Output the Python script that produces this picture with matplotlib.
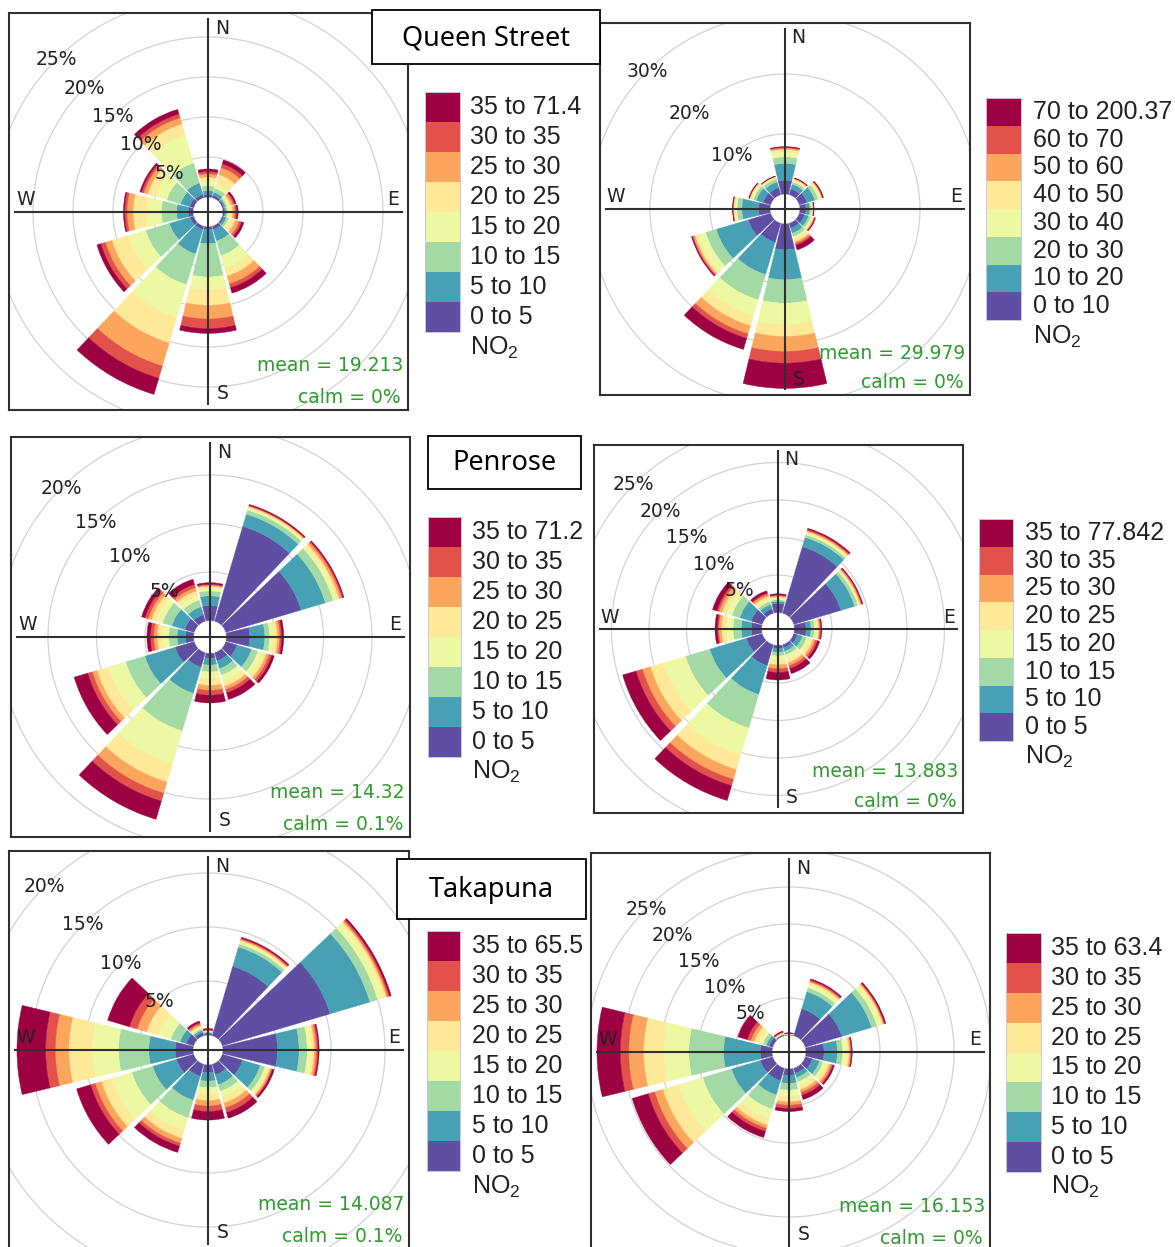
import numpy as np
import matplotlib
matplotlib.use("Agg")
import matplotlib.pyplot as plt
from matplotlib.patches import Wedge, Circle, Rectangle

plt.rcParams["mathtext.fontset"] = "custom"
plt.rcParams["mathtext.rm"] = "Liberation Sans"
plt.rcParams["mathtext.default"] = "regular"

W, H = 1175, 1247

# wind sectors (degrees clockwise from north)
directions = [0, 30, 60, 90, 120, 150, 180, 210, 240, 270, 300, 330]

# frequency (%) per NO2 band (rows, lowest band first) and wind sector (columns)
qs_left = [
    [0.3, 0.3, 0.2, 0.2, 0.2, 0.4, 0.3, 0.4, 0.45, 0.6, 0.5, 0.4],
    [0.5, 0.4, 0.2, 0.2, 0.3, 1.5, 1.8, 3.2, 2.7, 1.45, 1.2, 1.5],
    [0.6, 0.5, 0.2, 0.2, 0.3, 1.9, 4.15, 4.0, 3.1, 1.9, 1.8, 2.6],
    [0.6, 0.6, 0.2, 0.3, 0.4, 1.7, 1.65, 4.3, 2.3, 1.9, 1.5, 3.7],
    [0.5, 1.2, 0.3, 0.3, 0.5, 1.0, 1.9, 3.3, 2.1, 1.65, 1.0, 1.4],
    [0.4, 0.9, 0.3, 0.3, 0.5, 1.0, 1.7, 3.0, 0.85, 0.75, 0.5, 0.8],
    [0.3, 0.5, 0.2, 0.2, 0.3, 0.5, 1.2, 1.6, 0.6, 0.3, 0.3, 0.5],
    [0.3, 0.5, 0.2, 0.2, 0.3, 0.7, 0.6, 2.1, 0.5, 0.15, 0.2, 0.6],
]
qs_right = [
    [2.3, 1.0, 1.3, 1.0, 0.9, 0.8, 4.3, 3.3, 3.9, 1.9, 1.3, 1.2],
    [2.8, 0.8, 1.4, 0.6, 0.7, 0.9, 5.0, 5.6, 5.55, 2.8, 1.2, 1.0],
    [1.1, 0.4, 0.6, 0.3, 0.4, 0.6, 3.9, 4.4, 1.85, 0.8, 0.5, 0.5],
    [0.8, 0.3, 0.4, 0.2, 0.3, 0.5, 3.6, 2.8, 1.35, 0.4, 0.4, 0.3],
    [0.45, 0.2, 0.2, 0.1, 0.2, 0.4, 1.95, 1.7, 0.5, 0.15, 0.2, 0.1],
    [0.2, 0.1, 0.1, 0.05, 0.1, 0.3, 2.5, 1.4, 0.3, 0.1, 0.1, 0.05],
    [0.15, 0.05, 0.1, 0.05, 0.1, 0.3, 1.95, 0.8, 0.15, 0.05, 0.05, 0.03],
    [0.1, 0.05, 0.1, 0.05, 0.1, 0.8, 4.2, 1.9, 0.15, 0.05, 0.05, 0.02],
]
pen_left = [
    [1.55, 10.2, 8.1, 2.4, 1.2, 0.85, 0.5, 1.55, 2.05, 0.85, 1.0, 0.7],
    [1.0, 1.3, 2.6, 1.55, 1.55, 0.85, 0.7, 2.8, 3.25, 0.85, 1.4, 0.85],
    [0.5, 0.45, 0.85, 0.5, 0.7, 0.7, 0.7, 4.05, 2.05, 0.85, 1.0, 0.7],
    [0.3, 0.25, 0.35, 0.4, 0.5, 0.7, 0.7, 3.6, 1.9, 0.7, 0.7, 0.5],
    [0.2, 0.1, 0.3, 0.4, 0.4, 0.5, 0.7, 1.9, 1.2, 0.5, 0.5, 0.5],
    [0.1, 0.1, 0.25, 0.25, 0.3, 0.35, 0.5, 1.2, 0.5, 0.35, 0.35, 0.35],
    [0.1, 0.05, 0.15, 0.2, 0.3, 0.35, 0.5, 0.85, 0.5, 0.35, 0.35, 0.35],
    [0.15, 0.1, 0.1, 0.2, 0.25, 0.7, 0.8, 1.95, 1.45, 0.35, 0.35, 0.55],
]
pen_right = [
    [1.2, 9.25, 6.55, 1.55, 0.5, 0.4, 0.4, 2.9, 2.2, 1.35, 1.5, 0.6],
    [0.3, 1.3, 1.9, 0.65, 0.7, 0.5, 0.5, 4.0, 5.1, 1.35, 1.6, 0.6],
    [0.2, 0.35, 0.45, 0.45, 0.6, 0.5, 0.5, 4.65, 3.35, 1.1, 1.1, 0.4],
    [0.2, 0.25, 0.2, 0.35, 0.5, 0.6, 0.6, 3.8, 3.1, 0.9, 0.8, 0.4],
    [0.2, 0.2, 0.15, 0.25, 0.4, 0.5, 0.6, 2.0, 1.8, 0.65, 0.6, 0.3],
    [0.15, 0.15, 0.15, 0.15, 0.3, 0.4, 0.5, 1.35, 1.1, 0.35, 0.4, 0.3],
    [0.1, 0.15, 0.1, 0.15, 0.3, 0.4, 0.5, 0.9, 0.9, 0.2, 0.3, 0.2],
    [0.15, 0.15, 0.1, 0.1, 0.3, 0.7, 1.0, 2.05, 1.85, 0.3, 0.6, 0.3],
]
tak_left = [
    [0.15, 6.7, 10.4, 5.05, 1.95, 1.0, 0.7, 1.15, 1.65, 1.65, 0.7, 0.3],
    [0.1, 1.85, 3.85, 2.0, 1.7, 0.95, 0.8, 2.3, 2.3, 2.45, 0.6, 0.2],
    [0.05, 0.3, 0.75, 0.75, 0.45, 0.65, 0.6, 1.7, 2.0, 2.8, 0.9, 0.15],
    [0.05, 0.2, 0.6, 0.4, 0.3, 0.6, 0.6, 1.25, 2.0, 2.45, 1.25, 0.15],
    [0.05, 0.15, 0.25, 0.25, 0.2, 0.55, 0.6, 0.75, 0.95, 2.15, 1.1, 0.15],
    [0.05, 0.1, 0.15, 0.2, 0.15, 0.45, 0.5, 0.45, 0.6, 1.25, 0.9, 0.15],
    [0.05, 0.1, 0.15, 0.15, 0.1, 0.45, 0.5, 0.3, 0.45, 0.9, 0.75, 0.15],
    [0.1, 0.1, 0.15, 0.1, 0.15, 0.55, 0.8, 0.6, 1.35, 2.65, 2.1, 0.15],
]
tak_right = [
    [0.05, 3.8, 5.15, 2.45, 1.0, 0.7, 0.85, 1.75, 1.75, 1.6, 0.5, 0.1],
    [0.05, 2.4, 4.2, 1.8, 1.0, 0.6, 1.1, 2.0, 4.05, 4.95, 0.4, 0.1],
    [0.03, 0.55, 0.75, 0.7, 0.5, 0.6, 0.9, 2.0, 4.05, 4.7, 0.5, 0.05],
    [0.03, 0.45, 0.6, 0.55, 0.5, 0.6, 0.9, 1.35, 3.4, 3.4, 0.6, 0.05],
    [0.04, 0.3, 0.25, 0.35, 0.4, 0.5, 0.7, 0.9, 2.25, 2.7, 0.6, 0.1],
    [0.03, 0.2, 0.15, 0.2, 0.3, 0.4, 0.45, 0.45, 1.15, 2.0, 0.5, 0.1],
    [0.03, 0.15, 0.1, 0.1, 0.2, 0.4, 0.45, 0.45, 0.9, 1.15, 0.5, 0.05],
    [0.04, 0.15, 0.15, 0.1, 0.2, 0.6, 0.4, 0.85, 2.25, 3.15, 1.3, 0.1],
]

# legend labels (lowest band first)
bands_5 = ["0 to 5", "5 to 10", "10 to 15", "15 to 20", "20 to 25", "25 to 30", "30 to 35"]
bands_10 = ["0 to 10", "10 to 20", "20 to 30", "30 to 40", "40 to 50", "50 to 60", "60 to 70"]
labels_qs_left = bands_5 + ["35 to 71.4"]
labels_qs_right = bands_10 + ["70 to 200.37"]
labels_pen_left = bands_5 + ["35 to 71.2"]
labels_pen_right = bands_5 + ["35 to 77.842"]
labels_tak_left = bands_5 + ["35 to 65.5"]
labels_tak_right = bands_5 + ["35 to 63.4"]

means = ["19.213", "29.979", "14.32", "13.883", "14.087", "16.153"]
calms = ["0%", "0%", "0.1%", "0%", "0.1%", "0%"]
sites = ["Queen Street", "Penrose", "Takapuna"]

band_colors = plt.get_cmap("Spectral_r")(np.linspace(0, 1, 8))

fig = plt.figure(figsize=(W / 100, H / 100), dpi=100)
fig.patch.set_facecolor("white")

FRAME = "#303030"
TXT = "#222222"
GREEN = "#2f9a2f"
HALF_WIDTH = 13.5  # each sector drawn 27 degrees wide


def draw_rose(freq, grid, box, center, scale, off_px, mean, calm):
    l, t, r, b = box
    cx, cy = center
    ax = fig.add_axes([l / W, 1 - b / H, (r - l) / W, (b - t) / H])
    xl, xr = (l - cx) / scale, (r - cx) / scale
    yb, yt = (cy - b) / scale, (cy - t) / scale
    ax.set_xlim(xl, xr)
    ax.set_ylim(yb, yt)
    ax.set_aspect("auto")
    ax.set_xticks([])
    ax.set_yticks([])
    for sp in ax.spines.values():
        sp.set_color(FRAME)
        sp.set_linewidth(1.5)
    off = off_px / scale

    for g in grid:
        ax.add_patch(Circle((0, 0), off + g, fill=False, ec="#d2d2d2", lw=0.9, zorder=1))

    freq = np.asarray(freq, dtype=float)
    cum = np.zeros(len(directions))
    for k in range(freq.shape[0]):
        for d, v in enumerate(freq[k]):
            if v <= 0:
                continue
            outer = off + cum[d] + v
            th = 90 - directions[d]
            ax.add_patch(Wedge((0, 0), outer, th - HALF_WIDTH, th + HALF_WIDTH, width=v,
                               fc=band_colors[k], ec=band_colors[k], lw=0.3, zorder=2))
        cum += freq[k]

    ax.plot([xl * 0.97, xr * 0.97], [0, 0], color=FRAME, lw=1.5, zorder=3)
    ax.plot([0, 0], [yb * 0.97, yt * 0.97], color=FRAME, lw=1.5, zorder=3)

    fs = 13.5
    kw = dict(fontsize=fs, color=TXT, family="DejaVu Sans", zorder=4)
    ax.text(0.07 * xr, 0.92 * yt, "N", ha="center", va="center", **kw)
    ax.text(0.925 * xr, 0.065 * yt, "E", ha="center", va="center", **kw)
    ax.text(0.075 * xr, 0.915 * yb, "S", ha="center", va="center", **kw)
    ax.text(0.915 * xl, 0.065 * yt, "W", ha="center", va="center", **kw)
    for g in grid:
        rr = (off + g) / np.sqrt(2)
        ax.text(-rr, rr, f"{g}%", ha="center", va="center", **kw)

    gk = dict(fontsize=fs, color=GREEN, family="DejaVu Sans", ha="right", va="center", zorder=4)
    ax.text(0.975 * xr, 0.775 * yb, f"mean = {mean}", **gk)
    ax.text(0.965 * xr, 0.935 * yb, f"calm = {calm}", **gk)


draw_rose(qs_left, [5, 10, 15, 20, 25], (9, 13, 408, 410), (208, 212), 8.0, 15, means[0], calms[0])
draw_rose(qs_right, [10, 20, 30], (600, 23, 970, 395), (785, 209), 6.0, 15, means[1], calms[1])
draw_rose(pen_left, [5, 10, 15, 20], (11, 437, 410, 837), (210, 637), 9.7, 16.5, means[2], calms[2])
draw_rose(pen_right, [5, 10, 15, 20, 25], (594, 445, 963, 813), (778, 629), 7.5, 16.5, means[3], calms[3])
draw_rose(tak_left, [5, 10, 15, 20], (9, 851, 409, 1250), (208, 1050), 10.8, 15, means[4], calms[4])
draw_rose(tak_right, [5, 10, 15, 20, 25], (591, 853, 990, 1252), (789, 1052), 7.4, 17, means[5], calms[5])

# overlay in pixel coordinates for legends and site titles
ov = fig.add_axes([0, 0, 1, 1], zorder=10)
ov.set_xlim(0, W)
ov.set_ylim(H, 0)
ov.axis("off")
ov.patch.set_alpha(0)


def draw_legend(labels, x0, x1, y0, y1, tx, no2_y):
    n = len(labels)
    pitch = (y1 - y0) / n
    for k, lab in enumerate(labels):
        top = y1 - (k + 1) * pitch
        ov.add_patch(Rectangle((x0, top), x1 - x0, pitch, fc=band_colors[k], ec="none"))
        ov.text(tx, top + pitch / 2, lab, fontsize=18, family="Liberation Sans",
                color=TXT, ha="left", va="center")
    ov.add_patch(Rectangle((x0, y0), x1 - x0, y1 - y0, fill=False, ec="#cbc4dc", lw=0.7))
    ov.text(tx, no2_y, r"NO$_2$", fontsize=18, family="Liberation Sans",
            color=TXT, ha="left", va="center")


draw_legend(labels_qs_left, 425, 460, 92, 332, 470, 348)
draw_legend(labels_qs_right, 986, 1021, 98, 320, 1033, 337)
draw_legend(labels_pen_left, 428, 461, 517, 757, 472, 772)
draw_legend(labels_pen_right, 979, 1013, 519, 741, 1025, 757)
draw_legend(labels_tak_left, 427, 460, 931, 1171, 472, 1187)
draw_legend(labels_tak_right, 1006, 1041, 933, 1172, 1051, 1187)


def draw_title(text, l, t, r, b):
    ov.add_patch(Rectangle((l, t), r - l, b - t, fc="white", ec="black", lw=1.3))
    ov.text((l + r) / 2, (t + b) / 2 + 1, text, fontsize=19.5, family="Noto Sans",
            color="black", ha="center", va="center")


draw_title(sites[0], 372, 10, 600, 64)
draw_title(sites[1], 428, 436, 581, 489)
draw_title(sites[2], 397, 859, 586, 919)

fig.savefig("out.png", dpi=100)
